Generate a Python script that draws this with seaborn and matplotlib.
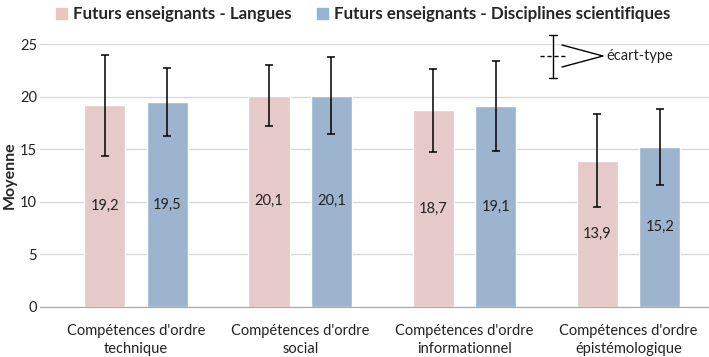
import matplotlib.pyplot as plt
import matplotlib.lines as mlines
import pandas as pd
import seaborn as sns

# data
categories = ["Compétences d'ordre\ntechnique", "Compétences d'ordre\nsocial",
              "Compétences d'ordre\ninformationnel", "Compétences d'ordre\népistémologique"]
series = ["Futurs enseignants - Langues", "Futurs enseignants - Disciplines scientifiques"]
langues = [19.2, 20.1, 18.7, 13.9]
sciences = [19.5, 20.1, 19.1, 15.2]
sd_langues = [4.8, 2.9, 3.95, 4.4]
sd_sciences = [3.2, 3.7, 4.3, 3.6]
colors = ["#EAC5C4", "#95B3D7"]

df = pd.DataFrame({
    "cat": categories * 2,
    "groupe": [series[0]] * 4 + [series[1]] * 4,
    "moyenne": langues + sciences,
    "sd": sd_langues + sd_sciences,
})

sns.set_style("white")
plt.rcParams["font.family"] = ["Lato", "DejaVu Sans"]

fig = plt.figure(figsize=(7.09, 3.57), dpi=100)
ax = fig.add_axes([40 / 709, 50 / 357, 669 / 709, 263 / 357])

sns.barplot(data=df, x="cat", y="moyenne", hue="groupe", palette=colors,
            width=0.76, gap=0.34, errorbar=None, ax=ax, legend=False)

# error bars and value labels at the bar centres
offsets = [-0.19, 0.19]
for k, (vals, sds) in enumerate([(langues, sd_langues), (sciences, sd_sciences)]):
    xs = [i + offsets[k] for i in range(len(categories))]
    ax.errorbar(xs, vals, yerr=sds, fmt="none", ecolor="black",
                elinewidth=1.1, capsize=3, capthick=1.1, zorder=4)
    for x, v in zip(xs, vals):
        ax.text(x, v / 2, f"{v:.1f}".replace(".", ","), ha="center",
                va="center", fontsize=10.5, color="#222222", zorder=5)

ax.set_ylim(0, 25)
ax.set_xlim(-0.585, 3.49)
ax.set_yticks(range(0, 26, 5))
ax.yaxis.grid(True, color="#D9D9D9", linewidth=1)
ax.set_axisbelow(True)
for s in ["top", "right", "left"]:
    ax.spines[s].set_visible(False)
ax.spines["bottom"].set_color("#A6A6A6")
ax.tick_params(axis="both", length=0, labelsize=10.5, colors="#222222")
ax.tick_params(axis="y", pad=2)
ax.tick_params(axis="x", pad=12)
for lab in ax.get_xticklabels():
    lab.set_linespacing(1.35)
ax.set_xlabel("")
ax.set_ylabel("Moyenne", fontsize=11.5, fontweight="bold")
ax.yaxis.set_label_coords(-23 / 669, 0.5)

# legend at the top
handles = [plt.Rectangle((0, 0), 1, 1, color=c) for c in colors]
fig.legend(handles, series, loc="upper center", bbox_to_anchor=(0.512, 1.025), ncol=2,
           frameon=False, prop={"weight": "bold", "size": 12.2},
           handlelength=0.65, handleheight=0.65, handletextpad=0.35, columnspacing=1.5)

# "écart-type" key drawn in figure pixels
def px(x, y):
    return x / 709, 1 - y / 357

for line in [
    [(553, 35), (553, 78)], [(549, 35), (557, 35)], [(549, 78), (557, 78)],
]:
    (x0, y0), (x1, y1) = px(*line[0]), px(*line[1])
    fig.add_artist(mlines.Line2D([x0, x1], [y0, y1], color="black", lw=1.0))
(x0, y0), (x1, y1) = px(540, 56), px(567, 56)
fig.add_artist(mlines.Line2D([x0, x1], [y0, y1], color="black", lw=1.0, ls=(0, (3, 2))))
pts = [px(562, 45), px(603, 56), px(562, 67)]
fig.add_artist(mlines.Line2D([p[0] for p in pts], [p[1] for p in pts], color="black", lw=1.0))
tx, ty = px(606, 56)
fig.text(tx, ty, "écart-type", fontsize=10.5, va="center", ha="left", color="#222222")

fig.savefig("out.png", dpi=100)
